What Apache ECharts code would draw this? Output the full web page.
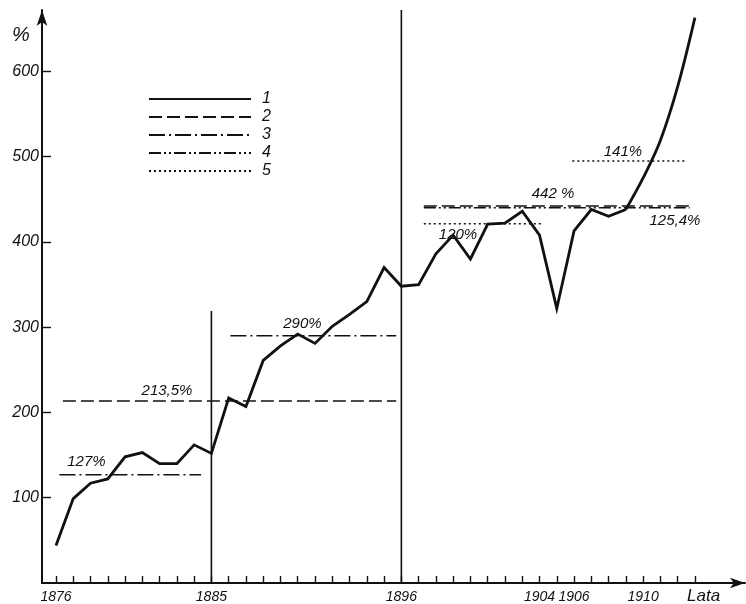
<!DOCTYPE html>
<html>
<head>
<meta charset="utf-8">
<script src="https://cdn.jsdelivr.net/npm/echarts@6/dist/echarts.min.js"></script>
<style>
  html, body { margin: 0; padding: 0; background: #fff; }
  #chart { width: 746px; height: 604px; }
</style>
</head>
<body>
<div id="chart"></div>
<script>
// Yearly index values (%), 1876-1913
const years = [1876, 1877, 1878, 1879, 1880, 1881, 1882, 1883, 1884, 1885,
               1886, 1887, 1888, 1889, 1890, 1891, 1892, 1893, 1894, 1895,
               1896, 1897, 1898, 1899, 1900, 1901, 1902, 1903, 1904, 1905,
               1906, 1907, 1908, 1909, 1910, 1911, 1912, 1913];
const indexValues = [44, 99, 117, 122, 148, 153, 140, 140, 162, 152,
                     217, 207, 261, 278, 292, 281, 301, 315, 330, 370,
                     348, 350, 386, 408, 380, 421, 422, 436, 408, 322,
                     413, 438, 430, 438, 475, 519, 582, 663];
// The last years are drawn as a smooth curve
const curveFromYear = 1909;

// Period averages / ratios
const refBase = 351;                       // 1896-97 level, base of the ratio lines
const refLabels = ['127%', '213,5%', '290%', '120%', '442 %', '125,4%', '141%'];
const refValues = [127, 213.5, 290, refBase * 1.20, 442, refBase * 1.254, refBase * 1.41];
const refFrom   = [1876.2, 1876.4, 1886.1, 1897.3, 1897.3, 1897.3, 1905.9];
const refTo     = [1884.4, 1895.7, 1895.7, 1904.2, 1912.7, 1912.7, 1912.5];
const refKind   = ['3', '2', '3', '5', '2', '4', '5'];

// Period boundaries
const dividerYears = [1885, 1896];
const dividerTops  = [319, 672];

// Axis ticks and labels
const xTickYears  = years.slice();
const xLabelYears = [1876, 1885, 1896, 1904, 1906, 1910];
const yTicks      = [100, 200, 300, 400, 500, 600];
const legendNames = ['1', '2', '3', '4', '5'];

// ---- presentation ----
const ink = '#111';
const font = "'Liberation Sans', Arial, sans-serif";
const dashes = {
  '2': [13, 5],
  '3': [16, 4, 2, 4],
  '4': [12, 3, 2, 3, 2, 3],
  '5': [2, 3]
};
// label anchor year and vertical pixel offset for each reference line
const refLabelYear = [1877.76, 1882.43, 1890.27, 1899.28, 1904.78, 1911.84, 1908.83];
const refLabelDy   = [-13, -10, -12, 11, -12, 13, -9];

const pairs = years.map((y, i) => [y, indexValues[i]]);
const cut = years.indexOf(curveFromYear);

const series = [
  {
    type: 'line', name: '1', data: pairs.slice(0, cut + 1),
    symbol: 'none', clip: false, z: 5,
    lineStyle: { color: ink, width: 2.8, join: 'miter' }
  },
  {
    type: 'line', name: '1', data: pairs.slice(cut), smooth: 0.35,
    symbol: 'none', clip: false, z: 5,
    lineStyle: { color: ink, width: 2.8 }
  }
];

refValues.forEach((v, i) => {
  series.push({
    type: 'line', name: refKind[i], z: 3,
    symbol: 'circle', symbolSize: 0, showSymbol: true,
    itemStyle: { color: ink },
    lineStyle: { color: ink, width: 1.5, type: dashes[refKind[i]] },
    emphasis: { disabled: true },
    data: [
      [refFrom[i], v],
      {
        value: [refLabelYear[i], v],
        label: {
          show: true, position: 'inside', offset: [0, refLabelDy[i]],
          formatter: refLabels[i], color: ink, fontSize: 15,
          fontStyle: 'italic', fontFamily: font
        }
      },
      [refTo[i], v]
    ]
  });
});

dividerYears.forEach((y, i) => {
  series.push({
    type: 'line', name: 'divider' + i, z: 2, symbol: 'none', clip: false,
    lineStyle: { color: ink, width: 1.6 },
    data: [[y, 0], [y, dividerTops[i]]]
  });
});

const axisLineStyle = { color: ink, width: 2 };

const option = {
  backgroundColor: '#fff',
  animation: false,
  grid: { left: 42, right: 1, top: 10, bottom: 19.5 },
  legend: {
    data: legendNames,
    orient: 'vertical',
    left: 143, top: 86,
    itemWidth: 102, itemHeight: 14, itemGap: 2,
    selectedMode: false,
    itemStyle: { opacity: 0, borderWidth: 0 },
    textStyle: { color: ink, fontSize: 16, fontStyle: 'italic', fontFamily: font, padding: [0, 0, 0, 6] }
  },
  xAxis: {
    type: 'value', min: 1875.19, max: 1915.9,
    axisLine: {
      show: true, onZero: false,
      symbol: ['none', 'arrow'], symbolSize: [8, 15], symbolOffset: [0, 0],
      lineStyle: axisLineStyle
    },
    axisTick: { show: true, inside: true, length: 7, customValues: xTickYears, lineStyle: { color: ink, width: 1.4 } },
    axisLabel: {
      customValues: xLabelYears, formatter: v => String(v),
      color: ink, fontSize: 14, fontStyle: 'italic', fontFamily: font, margin: 7
    },
    splitLine: { show: false }
  },
  yAxis: {
    type: 'value', min: 0, max: 672,
    axisLine: {
      show: true, onZero: false,
      symbol: ['none', 'arrow'], symbolSize: [8, 16], symbolOffset: [0, 0],
      lineStyle: axisLineStyle
    },
    axisTick: { show: true, inside: true, length: 9, customValues: yTicks, lineStyle: { color: ink, width: 1.4 } },
    axisLabel: {
      customValues: yTicks, formatter: v => String(v),
      color: ink, fontSize: 16, fontStyle: 'italic', fontFamily: font, margin: 3
    },
    splitLine: { show: false }
  },
  graphic: [
    { type: 'text', left: 12, top: 25, style: { text: '%', fill: ink, font: 'italic 20px ' + font } },
    { type: 'text', left: 687, top: 588, style: { text: 'Lata', fill: ink, font: 'italic 17px ' + font } }
  ],
  series: series
};

const chart = echarts.init(document.getElementById('chart'), null, { renderer: 'canvas' });
chart.setOption(option);
</script>
</body>
</html>
